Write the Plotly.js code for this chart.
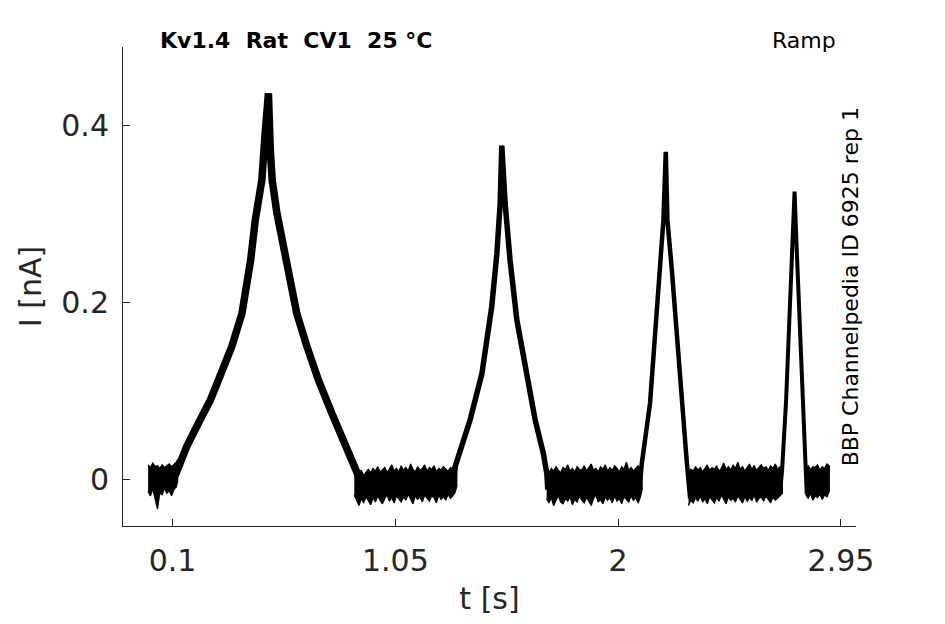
<!DOCTYPE html>
<html>
<head>
<meta charset="utf-8">
<script src="https://cdn.plot.ly/plotly-3.0.1.min.js"></script>
<style>html,body{margin:0;padding:0;background:#fff;}#plot{width:945px;height:624px;}</style>
</head>
<body>
<div id="plot"></div>
<script>
// ---- Data (t in s, I in nA) ----
// Peaks (centre line of the trace)
const peak1T = [0.112,0.126,0.161,0.218,0.261,0.296,0.353,0.396,0.424,0.433,0.453,0.481,0.495,0.509,0.517,0.525,0.545,0.573,0.602,0.630,0.673,0.722,0.780,0.836,0.872,0.900];
const peak1I = [0.004,0.014,0.037,0.067,0.089,0.112,0.150,0.187,0.225,0.247,0.293,0.338,0.391,0.436,0.372,0.338,0.301,0.263,0.225,0.187,0.150,0.112,0.074,0.037,0.014,-0.001];
const peak2T = [1.300,1.305,1.369,1.419,1.461,1.483,1.497,1.504,1.518,1.539,1.568,1.611,1.646,1.681,1.696,1.700];
const peak2I = [0.002,0.014,0.067,0.119,0.195,0.255,0.312,0.377,0.312,0.248,0.180,0.119,0.067,0.029,0.006,-0.012];
const peak3T = [2.094,2.101,2.136,2.158,2.179,2.193,2.203,2.210,2.229,2.250,2.271,2.293,2.307];
const peak3I = [-0.002,0.018,0.086,0.161,0.236,0.293,0.370,0.293,0.236,0.161,0.086,0.018,-0.022];
const peak4T = [2.694,2.699,2.716,2.731,2.744,2.752,2.762,2.776,2.789,2.797,2.804];
const peak4I = [-0.004,0.010,0.089,0.180,0.270,0.325,0.255,0.168,0.078,0.021,-0.017];

// Baseline noise band: upper / lower envelope per holding segment
const base1T = [-0.004,0.006,0.016,0.026,0.036,0.046,0.056,0.066,0.076,0.086,0.096,0.106,0.116,0.122];
const base1Up = [0.016,0.013,0.018,0.014,0.015,0.012,0.016,0.013,0.015,0.017,0.014,0.016,0.019,0.022];
const base1Lo = [-0.014,-0.019,-0.011,-0.022,-0.034,-0.015,-0.018,-0.010,-0.016,-0.013,-0.019,-0.012,-0.009,-0.002];

const base2T = [0.875,0.885,0.895,0.905,0.915,0.925,0.935,0.945,0.955,0.965,0.975,0.985,0.995,1.005,1.015,1.025,1.035,1.045,1.055,1.065,1.075,1.085,1.095,1.105,1.115,1.125,1.135,1.145,1.155,1.165,1.175,1.185,1.195,1.205,1.215,1.225,1.235,1.245,1.255,1.265,1.275,1.285,1.295,1.305,1.312];
const base2Up = [0.016,0.009,0.006,0.010,0.004,0.008,0.011,0.007,0.012,0.009,0.014,0.008,0.010,0.013,0.007,0.011,0.016,0.009,0.012,0.008,0.015,0.010,0.013,0.009,0.017,0.011,0.008,0.014,0.010,0.012,0.016,0.009,0.013,0.011,0.015,0.008,0.012,0.010,0.014,0.011,0.009,0.013,0.012,0.015,0.020];
const base2Lo = [-0.018,-0.024,-0.030,-0.022,-0.027,-0.020,-0.025,-0.029,-0.021,-0.026,-0.019,-0.024,-0.028,-0.022,-0.018,-0.025,-0.021,-0.027,-0.019,-0.023,-0.026,-0.020,-0.024,-0.017,-0.022,-0.028,-0.019,-0.023,-0.020,-0.026,-0.018,-0.022,-0.025,-0.019,-0.021,-0.027,-0.018,-0.023,-0.020,-0.024,-0.017,-0.022,-0.019,-0.015,-0.008];

const base3T = [1.695,1.705,1.715,1.725,1.735,1.745,1.755,1.765,1.775,1.785,1.795,1.805,1.815,1.825,1.835,1.845,1.855,1.865,1.875,1.885,1.895,1.905,1.915,1.925,1.935,1.945,1.955,1.965,1.975,1.985,1.995,2.005,2.015,2.025,2.035,2.045,2.055,2.065,2.075,2.085,2.095,2.102];
const base3Up = [0.002,0.008,0.012,0.009,0.014,0.010,0.007,0.013,0.011,0.016,0.009,0.012,0.008,0.014,0.011,0.010,0.015,0.009,0.013,0.017,0.010,0.012,0.008,0.014,0.011,0.016,0.009,0.013,0.010,0.015,0.012,0.008,0.014,0.011,0.019,0.010,0.013,0.009,0.012,0.015,0.011,0.018];
const base3Lo = [-0.022,-0.027,-0.021,-0.030,-0.024,-0.019,-0.026,-0.028,-0.022,-0.025,-0.020,-0.029,-0.023,-0.026,-0.019,-0.024,-0.027,-0.021,-0.025,-0.030,-0.022,-0.018,-0.026,-0.023,-0.028,-0.020,-0.024,-0.021,-0.027,-0.019,-0.025,-0.022,-0.028,-0.020,-0.023,-0.026,-0.019,-0.024,-0.021,-0.027,-0.020,-0.012];

const base4T = [2.300,2.310,2.320,2.330,2.340,2.350,2.360,2.370,2.380,2.390,2.400,2.410,2.420,2.430,2.440,2.450,2.460,2.470,2.480,2.490,2.500,2.510,2.520,2.530,2.540,2.550,2.560,2.570,2.580,2.590,2.600,2.610,2.620,2.630,2.640,2.650,2.660,2.670,2.680,2.690,2.700];
const base4Up = [0.006,0.011,0.009,0.014,0.010,0.013,0.008,0.012,0.016,0.010,0.013,0.011,0.015,0.009,0.012,0.018,0.011,0.014,0.010,0.016,0.012,0.019,0.011,0.014,0.009,0.013,0.017,0.011,0.015,0.010,0.013,0.016,0.012,0.014,0.010,0.015,0.012,0.017,0.011,0.014,0.013];
const base4Lo = [-0.030,-0.024,-0.027,-0.021,-0.025,-0.019,-0.026,-0.022,-0.028,-0.020,-0.024,-0.027,-0.021,-0.025,-0.018,-0.023,-0.028,-0.020,-0.024,-0.022,-0.026,-0.019,-0.023,-0.027,-0.020,-0.025,-0.021,-0.024,-0.018,-0.026,-0.022,-0.020,-0.025,-0.019,-0.023,-0.027,-0.020,-0.024,-0.021,-0.019,-0.016];

const base5T = [2.800,2.810,2.820,2.830,2.840,2.850,2.860,2.870,2.880,2.890,2.900];
const base5Up = [0.012,0.015,0.011,0.014,0.013,0.016,0.010,0.014,0.012,0.017,0.015];
const base5Lo = [-0.018,-0.022,-0.016,-0.024,-0.019,-0.021,-0.017,-0.023,-0.018,-0.020,-0.014];

// Tick labels
const xTickVals = [0.1, 1.05, 2, 2.95];
const xTickText = ['0.1', '1.05', '2', '2.95'];
const yTickVals = [0, 0.2, 0.4];
const yTickText = ['0', '0.2', '0.4'];

// ---- Build traces ----
function band(ts, up, lo) {
  return {x: ts.concat(ts.slice().reverse()), y: up.concat(lo.slice().reverse())};
}
const segs = [[base1T,base1Up,base1Lo],[base2T,base2Up,base2Lo],[base3T,base3Up,base3Lo],[base4T,base4Up,base4Lo],[base5T,base5Up,base5Lo]];
let bx = [], by = [];
segs.forEach((s, i) => {
  const b = band(s[0], s[1], s[2]);
  if (i > 0) { bx.push(null); by.push(null); }
  bx = bx.concat(b.x); by = by.concat(b.y);
});

const traces = [
  {x: bx, y: by, mode: 'lines', fill: 'toself', fillcolor: '#000', line: {color: '#000', width: 1.3}, hoverinfo: 'skip', showlegend: false},
  {x: peak1T, y: peak1I, mode: 'lines', line: {color: '#000', width: 7.5}, showlegend: false},
  {x: peak2T, y: peak2I, mode: 'lines', line: {color: '#000', width: 5.5}, showlegend: false},
  {x: peak3T, y: peak3I, mode: 'lines', line: {color: '#000', width: 4.5}, showlegend: false},
  {x: peak4T, y: peak4I, mode: 'lines', line: {color: '#000', width: 4}, showlegend: false}
];

const axFont = {family: 'DejaVu Sans', size: 30, color: '#262626'};
const layout = {
  width: 945, height: 624,
  margin: {l: 123, r: 89, t: 47, b: 98, pad: 0},
  paper_bgcolor: '#fff', plot_bgcolor: '#fff',
  showlegend: false,
  xaxis: {
    range: [-0.111, 3.014], tickmode: 'array', tickvals: xTickVals, ticktext: xTickText,
    ticks: 'inside', ticklen: 7, tickwidth: 1, tickcolor: '#262626',
    showline: true, linecolor: '#262626', linewidth: 1, zeroline: false, showgrid: false,
    tickfont: axFont, ticklabelstandoff: 8,
    title: {text: 't [s]', font: axFont, standoff: 10}
  },
  yaxis: {
    range: [-0.0531, 0.4885], tickmode: 'array', tickvals: yTickVals, ticktext: yTickText,
    ticks: 'inside', ticklen: 7, tickwidth: 1, tickcolor: '#262626',
    showline: true, linecolor: '#262626', linewidth: 1, zeroline: false, showgrid: false,
    tickfont: axFont, ticklabelstandoff: 7,
    title: {text: 'I [nA]', font: axFont, standoff: 10}
  },
  annotations: [
    {text: '<b>Kv1.4\u00A0\u00A0Rat\u00A0\u00A0CV1\u00A0\u00A025\u00A0°C</b>', xref: 'paper', yref: 'paper', x: 0.048, y: 1.014, xanchor: 'left', yanchor: 'middle', showarrow: false, font: {family: 'DejaVu Sans', size: 22, color: '#000'}},
    {text: 'Ramp', xref: 'paper', yref: 'paper', x: 0.9755, y: 1.014, xanchor: 'right', yanchor: 'middle', showarrow: false, font: {family: 'DejaVu Sans', size: 22, color: '#000'}},
    {text: 'BBP Channelpedia ID 6925 rep 1', xref: 'paper', yref: 'paper', x: 0.993, y: 0.5, xanchor: 'center', yanchor: 'middle', textangle: -90, showarrow: false, font: {family: 'DejaVu Sans', size: 22, color: '#000'}}
  ]
};
Plotly.newPlot('plot', traces, layout, {displayModeBar: false, staticPlot: true});
</script>
</body>
</html>
